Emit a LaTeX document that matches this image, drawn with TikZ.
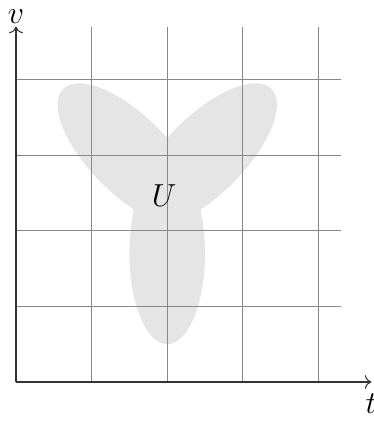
\documentclass[tikz,border=0pt]{standalone}
\usepackage{tikz}
\usetikzlibrary{arrows.meta,positioning}
\definecolor{lobegray}{HTML}{E5E5E5}
\definecolor{gridgray}{HTML}{888888}
\definecolor{axisgray}{HTML}{333333}

\begin{document}
\begin{tikzpicture}
\useasboundingbox (-0.212,-0.516) rectangle (4.735,5.053);
\fill[lobegray] (2,1.7) ellipse (0.5 and 1.2);
\fill[lobegray, rotate around={45:(1.5,3)}] (1.5,3) ellipse (0.52 and 1.24);
\fill[lobegray, rotate around={-45:(2.5,3)}] (2.5,3) ellipse (0.52 and 1.24);
\draw[gridgray] (0,0) grid (4.3,4.7);
\coordinate (O) at (0,0);
\coordinate (tend) at (4.7,0);
\coordinate (vend) at (0,4.7);
\draw[axisgray, ->] (O) -- (tend);
\draw[axisgray, ->] (O) -- (vend);
\node[below, yshift=-1pt] (tlabel) at (tend) {\large $t$};
\node[above, inner sep=1pt] (vlabel) at (vend) {\large $v$};
\node (ulabel) at (1.96,2.46) {\large $U$};
\end{tikzpicture}
\end{document}
